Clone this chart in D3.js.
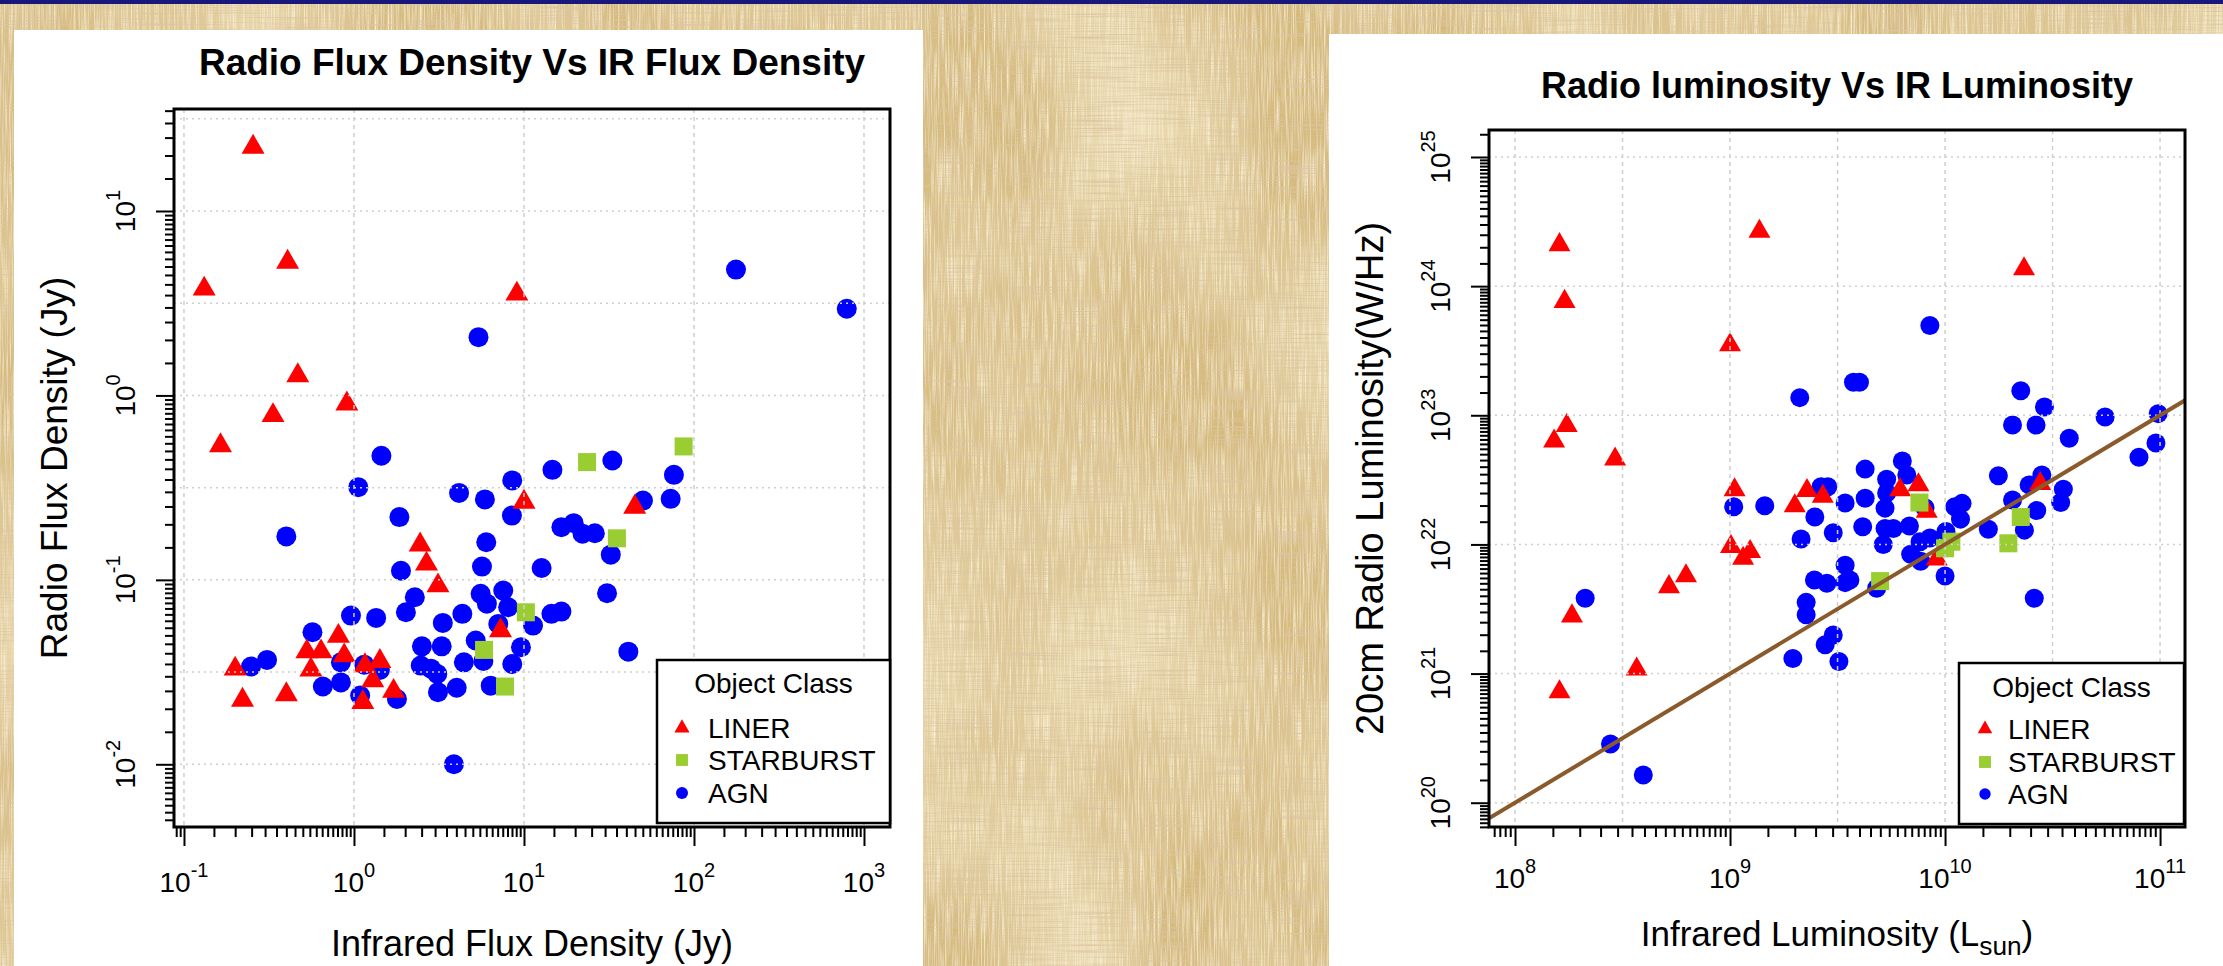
<!DOCTYPE html>
<html><head><meta charset="utf-8">
<script src="https://cdn.jsdelivr.net/npm/d3@7"></script>
<style>
body{margin:0;overflow:hidden;background:#d6bb82}
svg{display:block}
text{font-family:"Liberation Sans",Arial,Helvetica,sans-serif;fill:#000}
</style>
</head><body>
<svg id="c" width="2223" height="966" xmlns="http://www.w3.org/2000/svg">
<defs>
<filter id="parch" filterUnits="userSpaceOnUse" x="0" y="0" width="2223" height="966">
 <feFlood flood-color="#d5ba7c" result="base"/>
 <feTurbulence type="fractalNoise" baseFrequency="0.006 0.004" numOctaves="2" seed="2" result="n3"/>
 <feColorMatrix in="n3" type="matrix" values="0 0 0 0 0.93 0 0 0 0 0.84 0 0 0 0 0.60 0 0 1.5 0 -0.55" result="c3"/>
 <feTurbulence type="fractalNoise" baseFrequency="0.7 0.02" numOctaves="2" seed="7" result="n1"/>
 <feColorMatrix in="n1" type="matrix" values="0 0 0 0 0.96 0 0 0 0 0.89 0 0 0 0 0.68 2.2 0 0 0 -0.95" result="c1"/>
 <feTurbulence type="fractalNoise" baseFrequency="0.015 0.7" numOctaves="2" seed="11" result="n2"/>
 <feColorMatrix in="n2" type="matrix" values="0 0 0 0 0.72 0 0 0 0 0.56 0 0 0 0 0.36 0 2.2 0 0 -0.95" result="c2"/>
 <feMerge><feMergeNode in="base"/><feMergeNode in="c3"/><feMergeNode in="c1"/><feMergeNode in="c2"/></feMerge>
</filter>
</defs>
</svg>
<script>
// ---------------- DATA ----------------
const classes = ["LINER", "STARBURST", "AGN"];
const legendTitle = "Object Class";

// Left chart: [IR flux density (Jy), radio flux density (Jy)]
const fluxLiner = [[0.255,22.2],[0.407,5.28],[0.1315,3.78],[9.08,3.55],[0.467,1.28],[0.908,0.90],[0.334,0.779],[0.164,0.535],
 [2.45,0.155],[2.67,0.122],[3.12,0.093],[10.0,0.264],[44.8,0.248],[7.28,0.0531],[0.2,0.0329],[0.221,0.0223],[0.40,0.0239],
 [0.528,0.0408],[0.64,0.0408],[0.81,0.0495],[0.876,0.0388],[0.558,0.0325],[1.16,0.0343],[1.42,0.0362],[1.29,0.0284],
 [1.127,0.0217],[1.71,0.0249]];
const fluxStar = [[86.9,0.529],[23.5,0.435],[35.2,0.168],[10.26,0.0667],[5.82,0.0417],[7.73,0.0264]];
const fluxAgn = [[176.6,4.81],[792,2.95],[5.4,2.07],[1.45,0.471],[1.06,0.318],[4.15,0.296],[5.89,0.273],[1.85,0.219],
 [0.40,0.172],[6.0,0.160],[5.66,0.118],[1.89,0.112],[5.56,0.084],[2.28,0.0805],[2.02,0.0667],[0.96,0.064],[1.35,0.0622],
 [4.34,0.0654],[3.33,0.0584],[0.57,0.052],[2.51,0.0436],[3.28,0.0436],[5.2,0.0469],[4.43,0.0357],[2.47,0.0343],[3.09,0.0309],
 [2.84,0.033],[4.02,0.026],[3.12,0.0246],[6.37,0.0267],[0.248,0.0339],[0.308,0.0368],[0.656,0.0264],[0.838,0.0278],
 [0.838,0.0357],[1.15,0.0347],[1.42,0.0325],[1.087,0.0236],[1.79,0.0226],[33.1,0.444],[14.7,0.395],[76.2,0.371],[8.53,0.346],
 [8.49,0.223],[50.1,0.269],[72.9,0.275],[16.6,0.193],[19.6,0.203],[22.1,0.178],[26.1,0.179],[32.4,0.137],[12.7,0.116],
 [30.8,0.0846],[7.55,0.0875],[8.07,0.071],[14.5,0.0654],[16.6,0.0673],[11.3,0.0565],[7.06,0.0577],[9.6,0.0431],[8.53,0.035],
 [41.1,0.0408],[3.87,0.01],[6.05,0.0743],[5.77,0.0363]];

// Right chart: [IR luminosity (Lsun), 20cm radio luminosity (W/Hz)]
const lumLiner = [[1.61e8,2.09e24],[1.37e9,2.65e24],[2.33e10,1.36e24],[1.70e8,7.6e23],[1.0e9,3.5e23],[1.74e8,8.3e22],
 [1.52e8,6.3e22],[2.92e8,4.57e22],[1.05e9,2.64e22],[2.28e9,2.61e22],[2.0e9,1.99e22],[2.70e9,2.35e22],[1.01e9,9.6e21],
 [1.24e9,8.8e21],[1.15e9,7.8e21],[6.24e8,5.7e21],[5.2e8,4.7e21],[1.84e8,2.79e21],[3.68e8,1.08e21],[1.61e8,7.2e20],
 [6.18e9,2.64e22],[7.52e9,2.89e22],[8.22e9,1.8e22],[9.15e9,7.7e21],[2.77e10,2.95e22]];
const lumStar = [[7.6e9,2.11e22],[2.25e10,1.63e22],[1.97e10,1.02e22],[1.07e10,1.05e22],[1.0e10,9.34e21],[4.99e9,5.2e21]];
const lumAgn = [[8.5e9,4.95e23],[3.75e9,1.8e23],[4.0e9,1.8e23],[2.11e9,1.37e23],[2.25e10,1.55e23],[2.9e10,1.16e23],
 [5.55e10,9.7e22],[9.8e10,1.03e23],[2.06e10,8.4e22],[2.65e10,8.4e22],[3.78e10,6.65e22],[9.57e10,6.1e22],[7.98e10,4.73e22],
 [4.25e9,3.83e22],[6.33e9,4.43e22],[5.35e9,3.2e22],[6.64e9,3.45e22],[1.04e9,1.96e22],[1.45e9,1.99e22],[2.65e9,2.8e22],
 [2.85e9,2.8e22],[3.43e9,2.09e22],[2.48e9,1.63e22],[3.02e9,1.23e22],[2.14e9,1.10e22],[2.12e8,3.83e21],[2.78e8,2.85e20],
 [3.95e8,1.64e20],[2.47e9,5.3e21],[2.82e9,5.0e21],[3.43e9,6.9e21],[3.43e9,5.06e21],[2.26e9,3.56e21],[2.26e9,2.85e21],
 [3.02e9,1.99e21],[2.77e9,1.67e21],[1.96e9,1.31e21],[3.21e9,1.24e21],[4.25e9,2.28e22],[5.35e9,2.5e22],[5.26e9,1.91e22],
 [8.07e9,1.92e22],[1.11e10,1.96e22],[1.2e10,2.08e22],[1.18e10,1.57e22],[4.14e9,1.37e22],[5.26e9,1.33e22],[5.75e9,1.33e22],
 [6.83e9,1.39e22],[5.16e9,1.0e22],[1.77e10,3.4e22],[2.06e10,2.21e22],[2.46e10,2.89e22],[2.82e10,3.45e22],[3.55e10,2.68e22],
 [3.45e10,2.11e22],[2.67e10,1.83e22],[2.34e10,1.29e22],[1.59e10,1.31e22],[1.01e10,1.26e22],[8.5e9,1.12e22],[7.65e9,1.05e22],
 [6.92e9,8.4e21],[7.7e9,7.4e21],[1.0e10,5.7e21],[3.61e9,5.3e21],[4.81e9,4.58e21],[2.6e10,3.83e21]];
const lumFit = [1, 12];   // log10(radio) = slope*log10(IR) + intercept

// Axis tick label exponents and grid positions (log10)
const fluxTickX = [-1, 0, 1, 2, 3], fluxTickY = [-2, -1, 0, 1];
const fluxGridX = [-1, 0, 1, 2, 3], fluxGridY = [-2, -1.5, -1, -0.5, 0, 0.5, 1, 1.5];
const lumTickX = [8, 9, 10, 11], lumTickY = [20, 21, 22, 23, 24, 25];
const lumGridX = [8, 8.5, 9, 9.5, 10, 10.5, 11], lumGridY = [20, 21, 22, 23, 24, 25];

// ---------------- LAYOUT ----------------
const W = 2223, H = 966;
const colors = {LINER: "#ff0000", STARBURST: "#9acd32", AGN: "#0000ff"};
const charts = [
 {id: "flux", panel: {x: 14, y: 30, w: 909, h: 936}, box: {l: 174, t: 109, r: 890, b: 827},
  xDom: [10 ** -1.0587, 10 ** 3.153], yDom: [10 ** -2.34, 10 ** 1.553],
  title: "Radio Flux Density Vs IR Flux Density", titleY: 75, titleSize: 37,
  xlab: [["Infrared Flux Density (Jy)", 0]], xlabY: 956, xlabSize: 36,
  ylab: "Radio Flux Density (Jy)", ylabX: 67, ylabSize: 37,
  xTickY: 892, yTickX: 135,
  data: {LINER: fluxLiner, STARBURST: fluxStar, AGN: fluxAgn},
  tickX: fluxTickX, tickY: fluxTickY, gridX: fluxGridX, gridY: fluxGridY, fit: null,
  legend: {x: 657, y: 660, w: 233, h: 163, titleY: 693, items: [738, 770, 803], symX: 682, textX: 708},
  r: 10, tri: 23, sq: 18},
 {id: "lum", panel: {x: 1329, y: 34, w: 894, h: 932}, box: {l: 1489, t: 130, r: 2185, b: 827},
  xDom: [10 ** 7.879, 10 ** 11.116], yDom: [10 ** 19.812, 10 ** 25.209],
  title: "Radio luminosity Vs IR Luminosity", titleY: 98, titleSize: 36,
  xlab: [["Infrared Luminosity (L", 0], ["sun", 1], [")", 0]], xlabY: 946, xlabSize: 35,
  ylab: "20cm Radio Luminosity(W/Hz)", ylabX: 1383, ylabSize: 38,
  xTickY: 888, yTickX: 1450,
  data: {LINER: lumLiner, STARBURST: lumStar, AGN: lumAgn},
  tickX: lumTickX, tickY: lumTickY, gridX: lumGridX, gridY: lumGridY, fit: lumFit,
  legend: {x: 1959, y: 663, w: 225, h: 161, titleY: 697, items: [739, 772, 804], symX: 1985, textX: 2008},
  r: 9.5, tri: 22, sq: 18}
];

const svg = d3.select("#c");
const defs = svg.select("defs");

// background
svg.append("rect").attr("width", W).attr("height", H).attr("filter", "url(#parch)");
svg.append("rect").attr("width", W).attr("height", 4).attr("fill", "#17177c");

function triPath(s) {
  const h = s * Math.sqrt(3) / 2;
  return `M0,${-2 * h / 3}L${s / 2},${h / 3}L${-s / 2},${h / 3}Z`;
}
function minorTicks(dom) {
  const out = [];
  const k0 = Math.floor(Math.log10(dom[0])) - 1, k1 = Math.ceil(Math.log10(dom[1]));
  for (let k = k0; k <= k1; k++) for (let j = 3; j <= 19; j++) {
    const v = j * 0.5 * 10 ** k;
    if (v >= dom[0] && v <= dom[1]) out.push(v);
  }
  return out;
}
function drawSymbol(sel, cls, cx, cy, c, scale) {
  if (cls === "AGN") sel.append("circle").attr("cx", cx).attr("cy", cy).attr("r", c.r * scale).attr("fill", colors.AGN);
  else if (cls === "LINER") sel.append("path").attr("d", triPath(c.tri * scale)).attr("transform", `translate(${cx},${cy})`).attr("fill", colors.LINER);
  else { const s = c.sq * scale; sel.append("rect").attr("x", cx - s / 2).attr("y", cy - s / 2).attr("width", s).attr("height", s).attr("fill", colors.STARBURST); }
}

charts.forEach(c => {
  const g = svg.append("g");
  g.append("rect").attr("x", c.panel.x).attr("y", c.panel.y).attr("width", c.panel.w).attr("height", c.panel.h).attr("fill", "#fff");

  const x = d3.scaleLog().domain(c.xDom).range([c.box.l, c.box.r]);
  const y = d3.scaleLog().domain(c.yDom).range([c.box.b, c.box.t]);

  // title
  g.append("text").attr("x", (c.box.l + c.box.r) / 2).attr("y", c.titleY).attr("text-anchor", "middle")
    .attr("font-weight", "bold").attr("font-size", c.titleSize).text(c.title);

  // clip
  defs.append("clipPath").attr("id", "clip-" + c.id).append("rect")
    .attr("x", c.box.l).attr("y", c.box.t).attr("width", c.box.r - c.box.l).attr("height", c.box.b - c.box.t);
  const plot = g.append("g").attr("clip-path", `url(#clip-${c.id})`);

  // points: AGN, LINER, STARBURST
  plot.append("g").selectAll("circle").data(c.data.AGN).join("circle")
    .attr("cx", d => x(d[0])).attr("cy", d => y(d[1])).attr("r", c.r).attr("fill", colors.AGN);
  plot.append("g").selectAll("path").data(c.data.LINER).join("path")
    .attr("d", triPath(c.tri)).attr("transform", d => `translate(${x(d[0])},${y(d[1])})`).attr("fill", colors.LINER);
  plot.append("g").selectAll("rect").data(c.data.STARBURST).join("rect")
    .attr("x", d => x(d[0]) - c.sq / 2).attr("y", d => y(d[1]) - c.sq / 2).attr("width", c.sq).attr("height", c.sq).attr("fill", colors.STARBURST);

  // grid (drawn over points)
  plot.append("g").selectAll("line").data(c.gridX).join("line")
    .attr("x1", d => x(10 ** d)).attr("x2", d => x(10 ** d)).attr("y1", c.box.t).attr("y2", c.box.b)
    .attr("stroke", "#cfcfcf").attr("stroke-width", 1.5).attr("stroke-dasharray", "4,4");
  plot.append("g").selectAll("line").data(c.gridY).join("line")
    .attr("y1", d => y(10 ** d)).attr("y2", d => y(10 ** d)).attr("x1", c.box.l).attr("x2", c.box.r)
    .attr("stroke", "#cfcfcf").attr("stroke-width", 1.5).attr("stroke-dasharray", "2,4");

  // fit line
  if (c.fit) {
    const fy = v => 10 ** (c.fit[0] * Math.log10(v) + c.fit[1]);
    plot.append("line").attr("x1", x(c.xDom[0])).attr("y1", y(fy(c.xDom[0])))
      .attr("x2", x(c.xDom[1])).attr("y2", y(fy(c.xDom[1])))
      .attr("stroke", "#8b5a2b").attr("stroke-width", 4);
  }

  // axes
  const xMajor = c.tickX.map(e => 10 ** e), yMajor = c.tickY.map(e => 10 ** e);
  const axStyle = a => { a.select(".domain").remove(); a.selectAll("line").attr("stroke", "#000").attr("stroke-width", 2); a.selectAll("text").remove(); };
  g.append("g").attr("transform", `translate(0,${c.box.b})`)
    .call(d3.axisBottom(x).tickValues(xMajor).tickSize(19).tickSizeOuter(0)).call(axStyle);
  g.append("g").attr("transform", `translate(0,${c.box.b})`)
    .call(d3.axisBottom(x).tickValues(minorTicks(c.xDom)).tickSize(10).tickSizeOuter(0)).call(axStyle);
  g.append("g").attr("transform", `translate(${c.box.l},0)`)
    .call(d3.axisLeft(y).tickValues(yMajor).tickSize(18).tickSizeOuter(0)).call(axStyle);
  g.append("g").attr("transform", `translate(${c.box.l},0)`)
    .call(d3.axisLeft(y).tickValues(minorTicks(c.yDom)).tickSize(9).tickSizeOuter(0)).call(axStyle);

  // tick labels
  c.tickX.forEach(e => {
    const t = g.append("text").attr("x", x(10 ** e)).attr("y", c.xTickY).attr("text-anchor", "middle").attr("font-size", 28);
    t.append("tspan").text("10");
    t.append("tspan").attr("dy", -15).attr("font-size", 20).text(e);
  });
  c.tickY.forEach(e => {
    const t = g.append("text").attr("transform", `translate(${c.yTickX},${y(10 ** e)}) rotate(-90)`).attr("text-anchor", "middle").attr("font-size", 28);
    t.append("tspan").text("10");
    t.append("tspan").attr("dy", -15).attr("font-size", 20).text(e);
  });

  // plot box
  g.append("rect").attr("x", c.box.l).attr("y", c.box.t).attr("width", c.box.r - c.box.l).attr("height", c.box.b - c.box.t)
    .attr("fill", "none").attr("stroke", "#000").attr("stroke-width", 3);

  // axis labels
  const xl = g.append("text").attr("x", (c.box.l + c.box.r) / 2).attr("y", c.xlabY).attr("text-anchor", "middle").attr("font-size", c.xlabSize);
  let prevSub = 0;
  c.xlab.forEach(([s, sub]) => {
    const ts = xl.append("tspan").text(s);
    if (sub !== prevSub) ts.attr("dy", sub ? 9 : -9);
    if (sub) ts.attr("font-size", c.xlabSize * 0.75);
    prevSub = sub;
  });
  g.append("text").attr("transform", `translate(${c.ylabX},${(c.box.t + c.box.b) / 2}) rotate(-90)`)
    .attr("text-anchor", "middle").attr("font-size", c.ylabSize).text(c.ylab);

  // legend
  const L = c.legend;
  const lg = g.append("g");
  lg.append("rect").attr("x", L.x).attr("y", L.y).attr("width", L.w).attr("height", L.h)
    .attr("fill", "#fff").attr("stroke", "#000").attr("stroke-width", 2.5);
  lg.append("text").attr("x", L.x + L.w / 2).attr("y", L.titleY).attr("text-anchor", "middle").attr("font-size", 28).text(legendTitle);
  classes.forEach((cls, i) => {
    drawSymbol(lg, cls, L.symX, L.items[i] - 10, c, cls === "AGN" ? 0.6 : 0.66);
    lg.append("text").attr("x", L.textX).attr("y", L.items[i]).attr("font-size", 28).text(cls);
  });
});
</script>
</body></html>
